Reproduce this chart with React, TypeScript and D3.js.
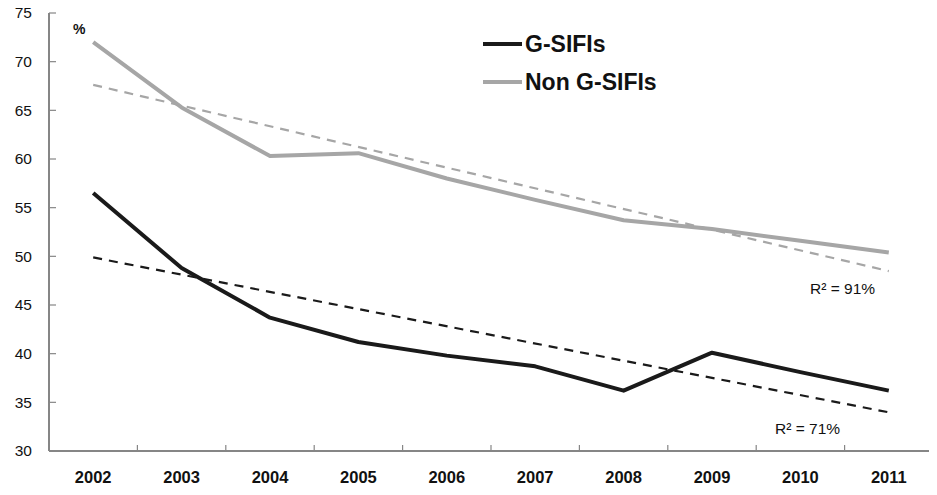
import { useEffect, useRef } from "react"
import * as d3 from "d3"

const years = ["2002", "2003", "2004", "2005", "2006", "2007", "2008", "2009", "2010", "2011"]
const gsifi = [56.5, 48.8, 43.7, 41.2, 39.8, 38.7, 36.2, 40.1, 38.1, 36.2]
const nonGsifi = [72.0, 65.3, 60.3, 60.6, 58.0, 55.8, 53.7, 52.8, 51.6, 50.4]
const yTicks = [30, 35, 40, 45, 50, 55, 60, 65, 70, 75]

// least squares fit over the category index
function fit(values: number[]) {
  const xs = values.map((_, i) => i)
  const mx = d3.mean(xs)!
  const my = d3.mean(values)!
  const sxy = d3.sum(xs, (x, i) => (x - mx) * (values[i] - my))
  const sxx = d3.sum(xs, (x) => (x - mx) * (x - mx))
  const slope = sxy / sxx
  return (i: number) => my + slope * (i - mx)
}

export default function App() {
  const svgRef = useRef<SVGSVGElement>(null)

  useEffect(() => {
    if (!svgRef.current) return
    d3.select(svgRef.current).selectAll("*").remove()

    const width = 937
    const height = 495
    const margin = { top: 13, right: 4, bottom: 44, left: 49 }
    const font = "'Liberation Sans', Arial, sans-serif"
    const axisColor = "#868686"
    const black = "#1a1a1a"
    const gray = "#a6a6a6"

    const x = d3.scaleBand().domain(years).range([margin.left, width - margin.right])
    const y = d3.scaleLinear().domain([30, 75]).range([height - margin.bottom, margin.top])
    const cx = (i: number) => x(years[i])! + x.bandwidth() / 2

    const svg = d3
      .select(svgRef.current)
      .attr("width", width)
      .attr("height", height)
      .style("display", "block")
      .style("font-family", font)

    // y axis
    const yAxis = svg.append("g").attr("transform", `translate(${margin.left},0)`)
    yAxis
      .append("line")
      .attr("x1", 0)
      .attr("x2", 0)
      .attr("y1", y(75))
      .attr("y2", y(30))
      .attr("stroke", axisColor)
      .attr("stroke-width", 2)
    yAxis
      .selectAll("line.tick")
      .data(yTicks)
      .enter()
      .append("line")
      .attr("class", "tick")
      .attr("x1", 0)
      .attr("x2", 7)
      .attr("y1", (d) => y(d))
      .attr("y2", (d) => y(d))
      .attr("stroke", axisColor)
      .attr("stroke-width", 1.2)
    yAxis
      .selectAll("text")
      .data(yTicks)
      .enter()
      .append("text")
      .attr("x", -17)
      .attr("y", (d) => y(d))
      .attr("dy", "0.35em")
      .attr("text-anchor", "end")
      .attr("font-size", 15.5)
      .attr("fill", "#111")
      .text((d) => d)

    // x axis
    const xAxis = svg.append("g").attr("transform", `translate(0,${y(30)})`)
    xAxis
      .append("line")
      .attr("x1", margin.left)
      .attr("x2", width - margin.right)
      .attr("stroke", axisColor)
      .attr("stroke-width", 2)
    xAxis
      .selectAll("line.tick")
      .data(years.slice(1).concat(["end"]))
      .enter()
      .append("line")
      .attr("class", "tick")
      .attr("x1", (d) => (d === "end" ? width - margin.right : x(d)!))
      .attr("x2", (d) => (d === "end" ? width - margin.right : x(d)!))
      .attr("y1", 0)
      .attr("y2", -6)
      .attr("stroke", axisColor)
      .attr("stroke-width", 1.2)
    xAxis
      .selectAll("text")
      .data(years)
      .enter()
      .append("text")
      .attr("x", (d) => x(d)! + x.bandwidth() / 2)
      .attr("y", 26)
      .attr("dy", "0.35em")
      .attr("text-anchor", "middle")
      .attr("font-size", 16.5)
      .attr("font-weight", "bold")
      .attr("fill", "#111")
      .text((d) => d)

    const line = d3
      .line<number>()
      .x((_, i) => cx(i))
      .y((d) => y(d))

    // trend lines
    const series = [
      { values: nonGsifi, color: gray },
      { values: gsifi, color: black },
    ]
    series.forEach((s) => {
      const f = fit(s.values)
      svg
        .append("line")
        .attr("x1", cx(0))
        .attr("x2", cx(years.length - 1))
        .attr("y1", y(f(0)))
        .attr("y2", y(f(years.length - 1)))
        .attr("stroke", s.color)
        .attr("stroke-width", 2.2)
        .attr("stroke-dasharray", "9,7")
    })

    series.forEach((s) => {
      svg
        .append("path")
        .datum(s.values)
        .attr("d", line)
        .attr("fill", "none")
        .attr("stroke", s.color)
        .attr("stroke-width", 4)
        .attr("stroke-linejoin", "round")
    })

    // unit label
    svg
      .append("text")
      .attr("x", 73)
      .attr("y", 34)
      .attr("font-size", 14)
      .attr("font-weight", "bold")
      .attr("fill", "#111")
      .text("%")

    // legend
    const legend = [
      { label: "G-SIFIs", color: black },
      { label: "Non G-SIFIs", color: gray },
    ]
    legend.forEach((l, i) => {
      const ly = 44 + i * 38
      svg
        .append("line")
        .attr("x1", 483)
        .attr("x2", 522)
        .attr("y1", ly)
        .attr("y2", ly)
        .attr("stroke", l.color)
        .attr("stroke-width", 4)
      svg
        .append("text")
        .attr("x", 525)
        .attr("y", ly)
        .attr("dy", "0.36em")
        .attr("font-size", 23)
        .attr("font-weight", "bold")
        .attr("fill", "#111")
        .text(l.label)
    })

    // R² annotations
    const r2 = [
      { text: "R² = 91%", x: 810, y: 289 },
      { text: "R² = 71%", x: 775, y: 429 },
    ]
    r2.forEach((r) => {
      svg
        .append("text")
        .attr("x", r.x)
        .attr("y", r.y)
        .attr("dy", "0.35em")
        .attr("font-size", 15.5)
        .attr("fill", "#111")
        .text(r.text)
    })
  }, [])

  return (
    <div style={{ margin: -8 }}>
      <svg ref={svgRef} />
    </div>
  )
}
